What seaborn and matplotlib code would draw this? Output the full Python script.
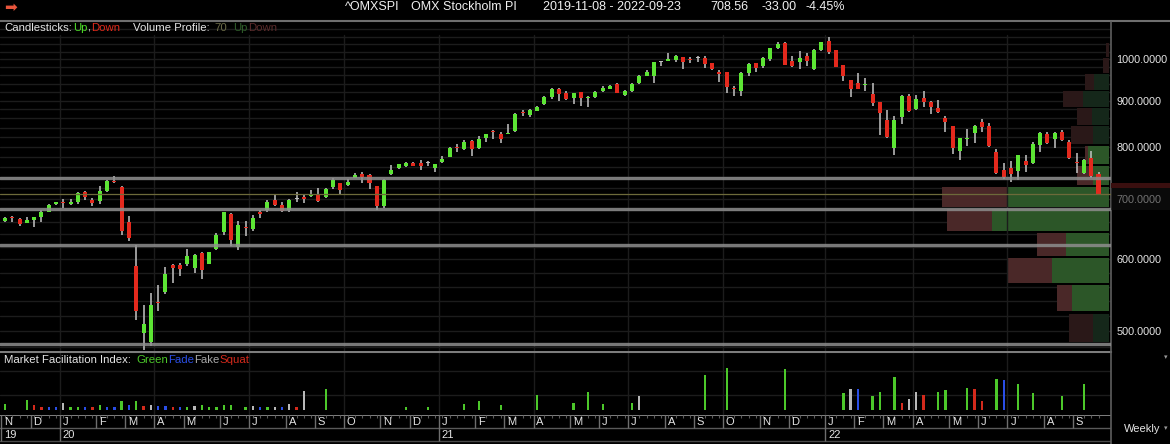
import matplotlib
matplotlib.use("Agg")
import matplotlib.pyplot as plt
import matplotlib.ticker as mticker
from matplotlib.lines import Line2D
from matplotlib.patches import Rectangle
import numpy as np
import pandas as pd
import seaborn as sns

# ---------------- data ----------------
first_week = "2019-11-08"
opens = [662, 667.5, 665, 659, 664, 668.5, 678, 690.5, 693.5, 691.5, 695.5, 712, 697.5, 696, 714.5, 732.5,
         722, 660, 590.5, 497.5, 485.5, 537.5, 551.5, 591, 592, 593, 587, 610, 593.5, 616, 643.5, 674,
         619.5, 651.5, 649, 678, 680, 697.5, 690, 680, 700, 702.5, 705.5, 709.5, 703.5, 721.5, 729, 726,
         738.5, 746.5, 743.5, 723, 688, 746, 757.5, 762, 767, 767, 767, 757.5, 770, 780, 799, 795,
         812.5, 797, 819, 832, 826.5, 826, 833, 873.5, 867.5, 876.5, 892.5, 909, 927, 918.5, 905.5, 919.5,
         905.5, 909, 922.5, 927, 938.5, 913, 923, 940.5, 959, 959, 994, 996.5, 998, 1005, 1001, 1002.5,
         1004, 990, 965.5, 967.5, 928, 922.5, 965, 990, 983.5, 1000, 1028.5, 1043, 995.5, 992.5, 1008.5, 975,
         1024, 1048, 1024, 986, 948.5, 940.5, 936, 915, 896, 856.5, 797, 864, 910.5, 881, 905.5, 896,
         884, 862, 843.5, 792, 816.5, 829.5, 851.5, 844.5, 790, 754, 758.5, 752.5, 771.5, 768, 804, 826.5,
         816, 831.5, 809.5, 769, 749, 778, 746]
highs = [668, 670, 667, 668.5, 669, 680, 691, 694.5, 700, 700, 713, 715, 702, 723, 735, 743,
         723, 671, 623, 534, 551, 562.5, 588.5, 593.5, 594.5, 616, 608, 611, 612, 642, 677.5, 675.5,
         662, 662, 672.5, 681, 697.5, 707.5, 695.5, 700, 713, 709.5, 716.5, 720, 720, 738.5, 730, 736.5,
         748, 750, 746.5, 724, 736, 764, 766.5, 770, 770, 773.5, 771.5, 765.5, 781.5, 800, 806, 814,
         814, 822.5, 826.5, 835, 831.5, 847, 873, 879, 880.5, 887, 911, 929, 930, 922.5, 917.5, 921,
         911, 922.5, 934, 935.5, 942, 924.5, 942, 961, 973, 994, 996.5, 1015.5, 1010, 1006.5, 1005, 1009,
         1008.5, 991, 973, 969, 934, 969, 990, 991.5, 1006.5, 1029, 1044.5, 1044.5, 1008.5, 1022, 1017, 1026,
         1046.5, 1059.5, 1024.5, 986.5, 949, 965, 954, 940.5, 896.5, 879, 865.5, 913, 914.5, 913, 922.5, 899,
         901.5, 865.5, 844.5, 819, 836.5, 846, 858.5, 849.5, 795, 767, 772, 784, 783.5, 809.5, 830.5, 831.5,
         831.5, 835, 814, 787, 775, 792, 749.8]
lows = [661, 660, 653, 658, 652, 660, 677, 690, 685, 690, 690.5, 697.5, 687, 690.5, 712, 729,
        639, 629, 513.5, 476.5, 481, 525.5, 549.5, 565, 574.5, 589.5, 579.5, 571, 593, 614, 639, 621.5,
        614, 637.5, 646, 667, 676.5, 687, 677, 678, 695.5, 693, 703.5, 694.5, 702, 718, 707.5, 723,
        738, 730, 718.5, 680, 685, 744, 756.5, 760.5, 762, 754, 762.5, 750, 768, 779, 790, 793.5,
        782, 795.5, 810.5, 815.5, 807.5, 825.5, 831.5, 865.5, 862.5, 876, 890, 903, 900, 901.5, 891.5, 888.5,
        886, 905.5, 919.5, 926.5, 917, 910.5, 920.5, 939, 958.5, 942, 984, 996, 994, 975.5, 991.5, 994,
        979, 973, 944.5, 917, 911.5, 910.5, 959, 969, 979, 995.5, 1026, 986, 980, 975.5, 983.5, 973,
        1022.5, 1013.5, 981, 946, 907.5, 926.5, 922.5, 888, 824.5, 819, 783.5, 847.5, 875, 879, 886.5, 870,
        873, 831.5, 785.5, 773.5, 802.5, 808.5, 831.5, 800.5, 746, 736.5, 732, 734, 750, 766, 790, 805,
        797, 812.5, 775.5, 748, 746.5, 739.5, 708]
closes = [667, 666.5, 657, 664, 668, 676.5, 690, 694, 692.5, 695.5, 711, 704.5, 693, 714.5, 733.5, 731.5,
          645.5, 633.5, 525.5, 509, 534.5, 536.5, 578.5, 586.5, 585.5, 606, 607.5, 584.5, 611.5, 638, 677, 630,
          655.5, 650.5, 667, 673.5, 695.5, 690, 679.5, 698.5, 700, 701, 706, 697, 718.5, 735, 716.5, 732,
          744.5, 741.5, 729, 688, 735, 754, 765, 768, 762.5, 762.5, 767, 765, 775, 798, 797.5, 809.5,
          795, 816, 826, 831, 816, 829.5, 870, 872, 879, 886, 909, 926.5, 915, 903, 917, 905.5,
          909, 920.5, 930, 934, 918.5, 923, 938, 958.5, 967.5, 992.5, 994, 1001, 1009, 994, 999, 1002.5,
          988, 975, 964.5, 932.5, 926.5, 966.5, 987.5, 977.5, 1004, 1028.5, 1040, 986.5, 983.5, 1004, 995.5, 1024,
          1044, 1019.5, 981.5, 958.5, 927, 927, 938, 894.5, 873, 819.5, 856.5, 910.5, 876.5, 903, 897.5, 886.5,
          875, 851.5, 798.5, 817.5, 818, 843.5, 842, 801, 749, 741.5, 746, 783.5, 764, 806, 828, 807.5,
          829.5, 814, 777, 767.5, 773.5, 741.56, 708.56]

# Volume profile (14 price bins of 40 points, lowest first)
vp_bin_low = [484, 524, 564, 604, 644, 684, 724, 764, 804, 844, 884, 924, 964, 1004]
vp_up = [16, 37.6, 57.6, 43.6, 117.6, 101, 16, 21, 16.6, 17.6, 26, 15.3, 0, 0]
vp_down = [24, 15, 44.4, 28.4, 45, 66.6, 16, 3, 22, 14.4, 20, 8.7, 6.6, 3.3]
vp_in_area = [False, True, True, True, True, True, True, True, False, False, False, False, False, False]
level_lines = [738, 682.4, 622.2, 483.7]

# Market Facilitation Index (week number, value, type)
mfi_week = [0, 3, 4, 5, 6, 7, 8, 9, 10, 11, 12, 13, 14, 15, 16, 17, 18, 19, 20, 21, 22, 23, 24, 25,
            26, 27, 28, 29, 30, 31, 33, 34, 35, 36, 37, 38, 39, 40, 41, 44, 55, 58, 63, 65, 68, 73,
            78, 80, 82, 86, 87, 96, 99, 107, 115, 116, 117, 119, 120, 122, 123, 124, 125, 126, 128,
            129, 132, 133, 134, 136, 137, 139, 141, 145, 148]
mfi_value = [5.7, 9.3, 5, 3.3, 2.7, 2.7, 6.7, 3.3, 3.3, 3.3, 2.7, 5, 3.3, 2.7, 8.3, 4.7, 8.3, 4, 5, 4, 4,
             3, 3, 3, 4, 5, 3.3, 3.3, 4.7, 5, 3.3, 4, 3, 3, 3.3, 3.3, 6, 3.3, 19, 21, 3, 3, 6, 8.3, 5,
             15, 7.3, 17.7, 6, 7.3, 13.3, 34.3, 41.7, 40.7, 16.7, 21, 21, 13.3, 17.7, 32.3, 6.7, 10.7,
             17.7, 14.3, 17.7, 20, 21.7, 21, 8.3, 30, 29, 26, 16.7, 13.3, 26]
mfi_kind = ["Green", "Green", "Squat", "Squat", "Fade", "Fade", "Fake", "Green", "Green", "Fade", "Squat",
            "Green", "Fade", "Fade", "Green", "Fade", "Green", "Squat", "Fake", "Fade", "Fade", "Squat",
            "Fade", "Green", "Fake", "Green", "Green", "Green", "Green", "Green", "Green", "Fake", "Fade",
            "Green", "Fake", "Fade", "Fake", "Squat", "Fake", "Green", "Green", "Green", "Green", "Green",
            "Green", "Green", "Green", "Green", "Green", "Green", "Fake", "Green", "Green", "Green", "Green",
            "Fake", "Fade", "Green", "Green", "Green", "Squat", "Fake", "Fake", "Squat", "Green", "Green",
            "Green", "Squat", "Squat", "Green", "Fade", "Green", "Green", "Green", "Green"]

price_ticks = [500, 600, 700, 800, 900, 1000]
month_letters = ["J", "F", "M", "A", "M", "J", "J", "A", "S", "O", "N", "D"]
header_items = ["^OMXSPI", "OMX Stockholm PI", "2019-11-08 - 2022-09-23", "708.56", "-33.00", "-4.45%"]

# ---------------- style ----------------
sns.set_theme(style="dark", rc={"axes.facecolor": "black", "figure.facecolor": "black",
                                "savefig.facecolor": "black"})
plt.rcParams["font.family"] = ["Liberation Sans", "DejaVu Sans"]

W, H = 1170, 444
BG = "#000000"
UP = "#5ce534"
DN = "#e3291d"
DOJI = "#bdbdbd"
WICK = "#c4c4c4"
GRID = "#1c1c1c"
TXT = "#e4e4e4"
MFI_COLORS = {"Green": "#4cc82a", "Fade": "#2a4ee6", "Fake": "#b8b8b8", "Squat": "#d42a1c"}

PX0, PXW = 5.0, 7.29           # pixel position of first bar and bar spacing
XR = 1111                      # right edge of the plotting area (px)
XLIM = (-PX0 / PXW, (XR - PX0) / PXW)


def box(x0, y0, x1, y1):
    return [x0 / W, 1 - y1 / H, (x1 - x0) / W, (y1 - y0) / H]


fig = plt.figure(figsize=(W / 100, H / 100), dpi=100, facecolor=BG)
renderer = fig.canvas.get_renderer()


def rainbow(x_px, y_px, pieces, size):
    x = x_px
    for s, c, gap in pieces:
        t = fig.text(x / W, 1 - y_px / H, s, color=c, fontsize=size, va="center", ha="left")
        x += t.get_window_extent(renderer=renderer).width + gap


dates = pd.date_range(first_week, periods=len(closes), freq="W-FRI")
xi = np.arange(len(closes))
O, Hh, L, C = (np.array(a, dtype=float) for a in (opens, highs, lows, closes))

# ---------------- main price panel ----------------
ax = fig.add_axes(box(0, 22, XR, 351), facecolor="none", zorder=2)
ax.set_yscale("log")
ax.set_ylim(475, 1100)
ax.set_xlim(*XLIM)

ax_vp = fig.add_axes(box(0, 22, XR, 351), facecolor=BG, zorder=1, sharey=ax)
for p in range(480, 1100, 20):
    ax_vp.axhline(p, color=GRID, lw=1.0, zorder=0)
vp_df = pd.DataFrame({"low": vp_bin_low, "up": vp_up, "down": vp_down, "area": vp_in_area})
for _, r in vp_df.iterrows():
    gcol = "#2c5628" if r["area"] else "#15271a"
    rcol = "#4a2828" if r["area"] else "#2a1818"
    ax_vp.barh(r["low"] + 1.5, r["up"], height=37, left=0, align="edge", color=gcol, lw=0, zorder=1)
    ax_vp.barh(r["low"] + 1.5, r["down"], height=37, left=r["up"], align="edge", color=rcol, lw=0, zorder=1)
ax_vp.set_xlim(XR - 1.7, -1.7)
ax_vp.set_xticks([])
ax_vp.tick_params(axis="y", which="both", left=False, right=False, labelleft=False, labelright=False)
for s in ax_vp.spines.values():
    s.set_visible(False)

# quarter gridlines
qstarts = [i for i in range(1, len(dates)) if dates[i].month != dates[i - 1].month and dates[i].month in (1, 4, 7, 10)]
for q in qstarts:
    ax.axvline(q - 0.5, ymin=0, ymax=0.96, color=GRID, lw=1.0, zorder=0)

# candles
ax.vlines(xi, L, Hh, color=WICK, lw=1.1, zorder=2)
lo = np.minimum(O, C)
hi = np.maximum(np.maximum(O, C), lo * 1.0028)
cols = np.where(C > O, UP, np.where(C < O, DN, DOJI))
ax.bar(xi, hi - lo, bottom=lo, width=0.55, color=cols, lw=0, zorder=3)

for lv in level_lines:
    ax.axhline(lv, color="#8e8e8e", lw=2.4, alpha=0.85, zorder=4)
ax.axhline(C[-1], color="#6d6a3a", lw=0.9, zorder=4)

ax.yaxis.tick_right()
ax.set_yticks(price_ticks)
ax.yaxis.set_major_formatter(mticker.FuncFormatter(lambda v, _: f"{v:.4f}"))
ax.yaxis.set_minor_locator(mticker.NullLocator())
ax.yaxis.set_minor_formatter(mticker.NullFormatter())
ax.tick_params(axis="y", length=0, pad=4, labelsize=7.8, labelcolor=TXT)
ax.set_xticks([])
for s in ax.spines.values():
    s.set_visible(False)
ax.grid(False)
ax_vp.grid(False)

# last-price markers on the price scale
ax.add_patch(Rectangle((1.0, 720), 59 / XR, 9, transform=ax.get_yaxis_transform(), clip_on=False,
                       color="#3a0f0f", lw=0, zorder=5))
ax.add_patch(Rectangle((1.0, 681), 59 / XR, 39, transform=ax.get_yaxis_transform(), clip_on=False,
                       color="#141414", alpha=0.55, lw=0, zorder=5))

# ---------------- MFI panel ----------------
axm = fig.add_axes(box(0, 352, XR, 415), facecolor=BG)
for v in (15, 38):
    axm.axhline(v, color=GRID, lw=1.0, zorder=0)
for q in qstarts:
    axm.axvline(q - 0.5, color=GRID, lw=1.0, zorder=0)
mfi_df = pd.DataFrame({"week": mfi_week, "mfi": mfi_value, "kind": mfi_kind})
sns.barplot(data=mfi_df, x="week", y="mfi", hue="kind", palette=MFI_COLORS, native_scale=True,
            dodge=False, width=0.32, errorbar=None, legend=False, saturation=1, linewidth=0, ax=axm)
axm.set_xlim(*XLIM)
axm.set_ylim(-5, 57)
axm.set_xticks([])
axm.set_yticks([])
axm.set_xlabel("")
axm.set_ylabel("")
axm.grid(False)
for s in axm.spines.values():
    s.set_visible(False)
axm.spines["top"].set_visible(True)
axm.spines["top"].set_color("#7c7c7c")
axm.spines["top"].set_linewidth(1.5)

# ---------------- date axis ----------------
axd = fig.add_axes(box(0, 415, XR, 444), facecolor=BG)
axd.set_xlim(*XLIM)
axd.set_ylim(0, 1)
axd.axis("off")
axd.axhline(0.985, color="#808080", lw=1.4)
axd.axhline(0.54, color="#5a5a5a", lw=1.0)
axd.axhline(0.10, color="#4a4a4a", lw=1.0)
axd.vlines(xi, 0.91, 0.985, color="#5a5a5a", lw=0.8)
mstarts = [0] + [i for i in range(1, len(dates)) if dates[i].month != dates[i - 1].month]
for i in mstarts:
    ystart = i == 0 or dates[i].year != dates[i - 1].year
    axd.vlines(i - 0.5, 0.10 if ystart else 0.54, 0.985, color="#6e6e6e", lw=1.0)
    axd.text(i - 0.5 + 0.4, 0.75, month_letters[dates[i].month - 1], color=TXT, fontsize=8,
             va="center", ha="left")
    if ystart:
        axd.text(i - 0.5 + 0.4, 0.30, f"{dates[i].year % 100:02d}", color=TXT, fontsize=8,
                 va="center", ha="left")

# ---------------- frame, header, legends ----------------
fig.add_artist(Line2D([0, 1], [1 - 21 / H] * 2, color="#6e6e6e", lw=1.5))
fig.add_artist(Line2D([XR / W] * 2, [1 - 22 / H, 0], color="#5e5e5e", lw=1.2))

fig.text(4 / W, 1 - 7 / H, "\u27a1", color="#e8553c", fontsize=11, va="center", ha="left",
         family="DejaVu Sans")
hx = [345, 411, 543, 710, 761, 805]
for x0, s in zip(hx, header_items):
    fig.text(x0 / W, 1 - 7 / H, s, color="#f0f0f0", fontsize=9, va="center", ha="left")

rainbow(4, 28, [("Candlesticks:", TXT, 1), ("Up", "#4fe02a", 0), (",", TXT, 1), ("Down", "#e02a1a", 13),
                ("Volume Profile:", TXT, 4), ("70", "#6c6c48", 6), ("Up", "#2f5e2a", 1),
                ("Down", "#5a2b2b", 0)], 8.2)
rainbow(4, 360, [("Market Facilitation Index:", TXT, 5), ("Green", MFI_COLORS["Green"], 0),
                 ("Fade", MFI_COLORS["Fade"], 0), ("Fake", "#a8a8a8", 0), ("Squat", MFI_COLORS["Squat"], 0)],
        8.2)

fig.text(1142 / W, 1 - 429 / H, "Weekly", color=TXT, fontsize=8, va="center", ha="center")
for yy in (357, 428):
    fig.text(1166 / W, 1 - yy / H, "\u25be", color="#9a9a9a", fontsize=5, va="center", ha="center",
             family="DejaVu Sans")

fig.savefig("out.png", dpi=100, facecolor=BG)
